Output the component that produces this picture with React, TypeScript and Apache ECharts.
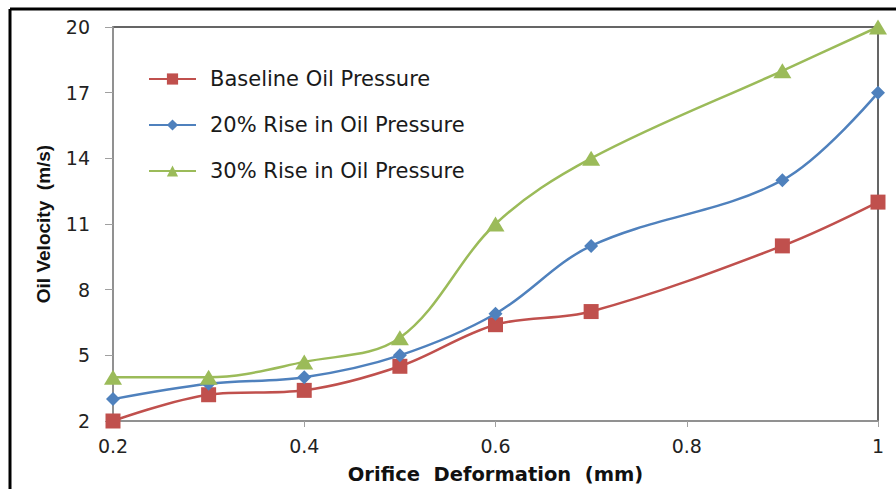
import React, { useEffect, useRef } from "react";
import * as echarts from "echarts";

const xValues = [0.2, 0.3, 0.4, 0.5, 0.6, 0.7, 0.9, 1.0];
const baseline = [2.0, 3.2, 3.4, 4.5, 6.4, 7.0, 10.0, 12.0];
const rise20 = [3.0, 3.7, 4.0, 5.0, 6.9, 10.0, 13.0, 17.0];
const rise30 = [4.0, 4.0, 4.7, 5.8, 11.0, 14.0, 18.0, 20.0];
const seriesNames = ["Baseline Oil Pressure", "20% Rise in Oil Pressure", "30% Rise in Oil Pressure"];
const yTicks = [2, 5, 8, 11, 14, 17, 20];
const xTicks = [0.2, 0.4, 0.6, 0.8, 1.0];

export default function App() {
  const ref = useRef<HTMLDivElement>(null);
  useEffect(() => {
    const chart = echarts.init(ref.current!, null, { renderer: "svg" });
    const pair = (ys: number[]) => xValues.map((x, i) => [x, ys[i]]);
    chart.setOption({
      animation: false,
      backgroundColor: "#ffffff",
      grid: {
        left: 113,
        right: 18,
        top: 27,
        bottom: 68,
        show: true,
        borderColor: "#333333",
        borderWidth: 1.5,
      },
      legend: {
        orient: "vertical",
        left: 143,
        top: 62,
        itemWidth: 47,
        itemHeight: 14,
        itemGap: 22,
        data: seriesNames,
        textStyle: {
          fontFamily: "DejaVu Sans",
          fontSize: 21,
          lineHeight: 24,
          color: "#1a1a1a",
          padding: [0, 0, 0, 9],
        },
      },
      xAxis: {
        type: "value",
        min: 0.2,
        max: 1,
        name: "Orifice  Deformation  (mm)",
        nameLocation: "middle",
        nameGap: 43,
        nameTextStyle: {
          fontFamily: "DejaVu Sans",
          fontWeight: "bold",
          fontSize: 19.5,
          color: "#111",
        },
        splitLine: { show: false },
        axisLine: { lineStyle: { color: "#a0a0a0", width: 1.5 } },
        axisTick: { show: true, length: 6, lineStyle: { color: "#a0a0a0" }, customValues: xTicks },
        axisLabel: {
          customValues: xTicks,
          margin: 15,
          fontFamily: "DejaVu Sans",
          fontSize: 19,
          color: "#222",
          formatter: (v: number) => String(+v.toFixed(1)),
        },
      },
      yAxis: {
        type: "value",
        min: 2,
        max: 20,
        name: "Oil Velocity  (m/s)",
        nameLocation: "middle",
        nameGap: 60,
        nameTextStyle: {
          fontFamily: "Liberation Sans",
          fontWeight: "bold",
          fontSize: 19,
          color: "#111",
        },
        splitLine: { show: false },
        axisLine: { show: true, lineStyle: { color: "#a0a0a0", width: 1.5 } },
        axisTick: { show: true, length: 8, lineStyle: { color: "#a0a0a0" }, customValues: yTicks },
        axisLabel: {
          customValues: yTicks,
          margin: 23,
          fontFamily: "DejaVu Sans",
          fontSize: 19,
          color: "#222",
        },
      },
      series: [
        {
          name: seriesNames[0],
          type: "line",
          data: pair(baseline),
          smooth: 0.35,
          symbol: "rect",
          symbolSize: 15,
          lineStyle: { color: "#C0504D", width: 2.5 },
          itemStyle: { color: "#C0504D" },
          z: 3,
        },
        {
          name: seriesNames[1],
          type: "line",
          data: pair(rise20),
          smooth: 0.35,
          symbol: "diamond",
          symbolSize: 14,
          lineStyle: { color: "#4F81BD", width: 2.5 },
          itemStyle: { color: "#4F81BD" },
          z: 4,
        },
        {
          name: seriesNames[2],
          type: "line",
          data: pair(rise30),
          smooth: 0.35,
          symbol: "triangle",
          symbolSize: [18, 15],
          lineStyle: { color: "#9BBB59", width: 2.5 },
          itemStyle: { color: "#9BBB59" },
          z: 5,
        },
      ],
      graphic: [
        { type: "line", shape: { x1: 10, y1: 9, x2: 896, y2: 9 }, style: { stroke: "#000", lineWidth: 3 } },
        { type: "line", shape: { x1: 10, y1: 9, x2: 10, y2: 489 }, style: { stroke: "#000", lineWidth: 3 } },
      ],
    });
    return () => chart.dispose();
  }, []);
  return (
    <div
      ref={ref}
      style={{ position: "fixed", left: 0, top: 0, width: 896, height: 489 }}
    />
  );
}
